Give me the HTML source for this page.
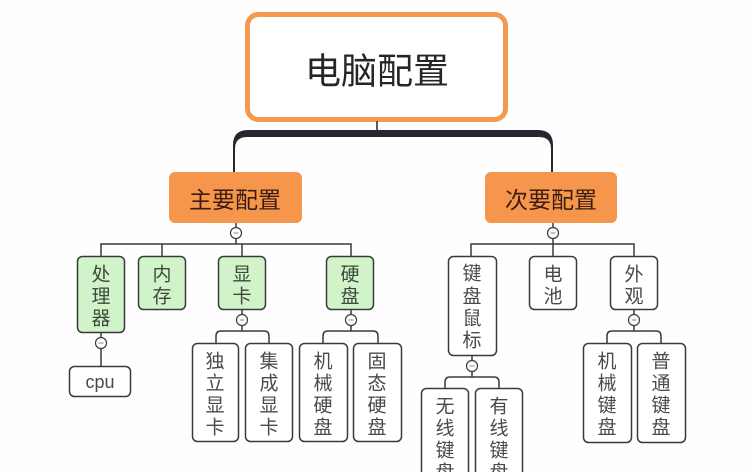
<!DOCTYPE html>
<html><head><meta charset="utf-8"><style>
html,body{margin:0;padding:0;background:#fff;width:750px;height:472px;overflow:hidden}
svg{display:block}
text{font-family:"Liberation Sans","Noto Sans CJK SC",sans-serif}
</style></head><body>
<svg width="750" height="472" viewBox="0 0 750 472" xmlns="http://www.w3.org/2000/svg">
<rect width="750" height="472" fill="#fefefe"/>
<!-- root -->
<rect x="247.5" y="14.5" width="258" height="105" rx="11" fill="#fff" stroke="#f39a4e" stroke-width="5"/>
<text x="377" y="71" font-size="36" fill="#262626" text-anchor="middle" dominant-baseline="central">电脑配置</text>
<!-- root connector -->
<line x1="377" y1="121" x2="377" y2="133" stroke="#2a2530" stroke-width="1.5"/>
<path d="M233,172 L233,145 Q233,130 248,130 L538,130 Q553,130 553,145 L553,172 L551,172 L551,149 Q551,137 539,137 L247,137 Q235,137 235,149 L235,172 Z" fill="#2a2530"/>
<!-- main nodes -->
<rect x="169" y="172" width="133" height="51" rx="6" fill="#f5964c"/>
<text x="235" y="200" font-size="23" fill="#3a1c10" text-anchor="middle" dominant-baseline="central">主要配置</text>
<rect x="485" y="172" width="132" height="51" rx="6" fill="#f5964c"/>
<text x="551" y="200" font-size="23" fill="#3a1c10" text-anchor="middle" dominant-baseline="central">次要配置</text>

<g stroke="#3a3a3a" stroke-width="1.5" fill="none">
<line x1="236" y1="223" x2="236" y2="244"/>
<path d="M101,256 L101,244 L351,244 L351,256"/>
<line x1="162" y1="244" x2="162" y2="256"/>
<line x1="242" y1="244" x2="242" y2="256"/>
<line x1="553" y1="223" x2="553" y2="256"/>
<path d="M471,256 L471,244 L634,244 L634,256"/>
<line x1="101" y1="333" x2="101" y2="366"/>
<line x1="242" y1="310" x2="242" y2="331"/>
<path d="M216,343 L216,336 Q216,331 221,331 L264,331 Q269,331 269,336 L269,343"/>
<line x1="351" y1="310" x2="351" y2="331"/>
<path d="M323,343 L323,336 Q323,331 328,331 L373,331 Q378,331 378,336 L378,343"/>
<line x1="472" y1="356" x2="472" y2="377"/>
<path d="M445,388 L445,382 Q445,377 450,377 L494,377 Q499,377 499,382 L499,388"/>
<line x1="634" y1="310" x2="634" y2="331"/>
<path d="M607,343 L607,336 Q607,331 612,331 L656,331 Q661,331 661,336 L661,343"/>
</g>

<!-- green nodes -->
<g stroke="#3a3a3a" stroke-width="1.5" fill="#d1f3ca">
<rect x="77.5" y="256.5" width="47" height="76" rx="5"/>
<rect x="138.5" y="256.5" width="47" height="53" rx="5"/>
<rect x="218.5" y="256.5" width="47" height="53" rx="5"/>
<rect x="326.5" y="256.5" width="47" height="53" rx="5"/>
</g>
<!-- white nodes -->
<g stroke="#3a3a3a" stroke-width="1.5" fill="#fff">
<rect x="69.5" y="366.5" width="61" height="30" rx="5"/>
<rect x="192.5" y="343.5" width="46" height="98" rx="5"/>
<rect x="245.5" y="343.5" width="47" height="98" rx="5"/>
<rect x="299.5" y="343.5" width="48" height="98" rx="5"/>
<rect x="353.5" y="343.5" width="48" height="98" rx="5"/>
<rect x="448.5" y="256.5" width="48" height="99" rx="5"/>
<rect x="529.5" y="256.5" width="47" height="53" rx="5"/>
<rect x="610.5" y="256.5" width="47" height="53" rx="5"/>
<rect x="421.5" y="388.5" width="47" height="100" rx="5"/>
<rect x="475.5" y="388.5" width="47" height="100" rx="5"/>
<rect x="583.5" y="343.5" width="48" height="99" rx="5"/>
<rect x="637.5" y="343.5" width="48" height="99" rx="5"/>
</g>

<!-- collapse circles -->
<g stroke="#3a3a3a" stroke-width="1.2" fill="#fff">
<circle cx="236" cy="233" r="5.5"/>
<circle cx="553" cy="233" r="5.5"/>
<circle cx="101" cy="343" r="5.5"/>
<circle cx="242" cy="320" r="5.5"/>
<circle cx="351" cy="320" r="5.5"/>
<circle cx="472" cy="366" r="5.5"/>
<circle cx="634" cy="320" r="5.5"/>
</g>
<g stroke="#888" stroke-width="1">
<line x1="233.5" y1="233" x2="238.5" y2="233"/>
<line x1="550.5" y1="233" x2="555.5" y2="233"/>
<line x1="98.5" y1="343" x2="103.5" y2="343"/>
<line x1="239.5" y1="320" x2="244.5" y2="320"/>
<line x1="348.5" y1="320" x2="353.5" y2="320"/>
<line x1="469.5" y1="366" x2="474.5" y2="366"/>
<line x1="631.5" y1="320" x2="636.5" y2="320"/>
</g>

<g font-size="19" fill="#3b4a3b" text-anchor="middle" dominant-baseline="central">
<text x="101" y="275">处</text><text x="101" y="297">理</text><text x="101" y="319">器</text>
<text x="162" y="275">内</text><text x="162" y="297">存</text>
<text x="242" y="275">显</text><text x="242" y="297">卡</text>
<text x="350" y="275">硬</text><text x="350" y="297">盘</text>
</g>
<g font-size="19" fill="#4a4a4a" text-anchor="middle" dominant-baseline="central">
<text x="100" y="382" font-size="18">cpu</text>
<text x="215" y="362">独</text><text x="215" y="384">立</text><text x="215" y="406">显</text><text x="215" y="428">卡</text>
<text x="269" y="362">集</text><text x="269" y="384">成</text><text x="269" y="406">显</text><text x="269" y="428">卡</text>
<text x="323" y="362">机</text><text x="323" y="384">械</text><text x="323" y="406">硬</text><text x="323" y="428">盘</text>
<text x="377" y="362">固</text><text x="377" y="384">态</text><text x="377" y="406">硬</text><text x="377" y="428">盘</text>
<text x="472" y="274">键</text><text x="472" y="297">盘</text><text x="472" y="319">鼠</text><text x="472" y="341">标</text>
<text x="553" y="275">电</text><text x="553" y="297">池</text>
<text x="634" y="275">外</text><text x="634" y="297">观</text>
<text x="445" y="407">无</text><text x="445" y="429">线</text><text x="445" y="451">键</text><text x="445" y="473">盘</text>
<text x="499" y="407">有</text><text x="499" y="429">线</text><text x="499" y="451">键</text><text x="499" y="473">盘</text>
<text x="607" y="362">机</text><text x="607" y="384">械</text><text x="607" y="406">键</text><text x="607" y="428">盘</text>
<text x="661" y="362">普</text><text x="661" y="384">通</text><text x="661" y="406">键</text><text x="661" y="428">盘</text>
</g>
</svg>
</body></html>
